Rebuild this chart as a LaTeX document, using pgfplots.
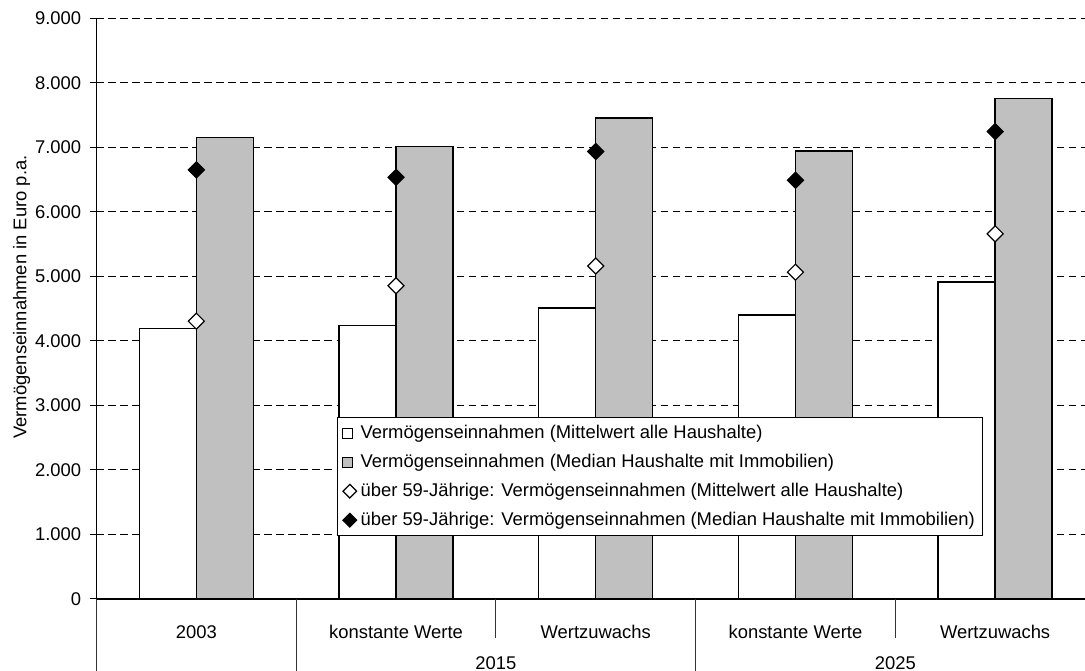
\documentclass[border=0pt]{standalone}
\usepackage{pgfplots}
\pgfplotsset{compat=1.18}
\usetikzlibrary{calc}
\usepackage{fontspec}
\setmainfont{Liberation Sans}
\newcommand\cf{\fontsize{9.2bp}{11bp}\selectfont}
\definecolor{bargray}{HTML}{C0C0C0}

\begin{document}
\begin{tikzpicture}[font=\cf]
\begin{axis}[
    scale only axis,
    width=494.25bp, height=290.35bp,
    xmin=-0.5, xmax=4.45,
    ymin=0, ymax=9000,
    axis lines*=left,
    axis line style={line width=0.6bp},
    clip=false,
    ytick distance=1000,
    scaled y ticks=false,
    /pgf/number format/1000 sep={.},
    /pgf/number format/assume math mode=true,
    yticklabel style={inner sep=0pt, xshift=-4.5bp},
    major tick length=3bp,
    tick align=outside,
    ytick style={black, line width=0.5bp},
    xtick={0,1,2,3,4},
    xticklabels={2003,konstante Werte,Wertzuwachs,konstante Werte,Wertzuwachs},
    xtick style={draw=none},
    xticklabel style={anchor=base, inner sep=0pt, yshift=-16.85bp},
    ymajorgrids,
    grid style={black, line width=0.5bp, dash pattern=on 3.7bp off 2.3bp},
    ylabel={Vermögenseinnahmen in Euro p.a.},
    ylabel style={at={(axis description cs:0,0.52)}, anchor=center, yshift=37.5bp},
    legend style={at={(axis description cs:0.2433,0.3134)}, anchor=north west,
        draw=black, line width=0.5bp, fill=white, font=\cf,
        inner xsep=2bp, inner ysep=0.6bp, row sep=0pt,
        nodes={inner xsep=1.7bp, inner ysep=2.8bp, text height=6.9bp, text depth=2bp}},
    legend cell align=left,
]
\addplot[ybar, bar width=28.5bp, bar shift=-14.25bp, draw=black, fill=white, line width=0.75bp,
    legend image code/.code={\draw[draw=black, fill=white, line width=0.5bp] (0bp,-2.5bp) rectangle (5bp,2.5bp);}]
    coordinates {(0,4190) (1,4240) (2,4510) (3,4400) (4,4910)};
\addlegendentry{Vermögenseinnahmen (Mittelwert alle Haushalte)}
\addplot[ybar, bar width=28.5bp, bar shift=14.25bp, draw=black, fill=bargray, line width=0.75bp,
    legend image code/.code={\draw[draw=black, fill=bargray, line width=0.5bp] (0bp,-2.5bp) rectangle (5bp,2.5bp);}]
    coordinates {(0,7150) (1,7010) (2,7455) (3,6945) (4,7755)};
\addlegendentry{Vermögenseinnahmen (Median Haushalte mit Immobilien)}
\addplot[only marks, mark=square*, mark size=2.83bp,
    mark options={rotate=45, fill=white, draw=black, line width=0.6bp},
    legend image code/.code={\draw[draw=black, fill=white, line width=0.6bp] (3.9bp,3.4bp) -- (7.3bp,0bp) -- (3.9bp,-3.4bp) -- (0.5bp,0bp) -- cycle;}]
    coordinates {(0,4305) (1,4855) (2,5160) (3,5065) (4,5660)};
\addlegendentry{über 59-Jährige: Vermögenseinnahmen (Mittelwert alle Haushalte)}
\addplot[only marks, mark=square*, mark size=2.83bp,
    mark options={rotate=45, fill=black, draw=black, line width=0.6bp},
    legend image code/.code={\draw[draw=black, fill=black, line width=0.6bp] (3.9bp,3.4bp) -- (7.3bp,0bp) -- (3.9bp,-3.4bp) -- (0.5bp,0bp) -- cycle;}]
    coordinates {(0,6650) (1,6535) (2,6935) (3,6490) (4,7245)};
\addlegendentry{über 59-Jährige: Vermögenseinnahmen (Median Haushalte mit Immobilien)}

% category separators below the x axis
\draw[black!80, line width=0.5bp] (axis cs:-0.5,0) -- ([yshift=-36bp]axis cs:-0.5,0);
\draw[black!80, line width=0.5bp] (axis cs:0.5,0) -- ([yshift=-36bp]axis cs:0.5,0);
\draw[black!80, line width=0.5bp] (axis cs:1.5,0) -- ([yshift=-19.35bp]axis cs:1.5,0);
\draw[black!80, line width=0.5bp] (axis cs:2.5,0) -- ([yshift=-36bp]axis cs:2.5,0);
\draw[black!80, line width=0.5bp] (axis cs:3.5,0) -- ([yshift=-19.35bp]axis cs:3.5,0);
\node[anchor=base, inner sep=0pt, yshift=-35.35bp] at (axis cs:1.5,0) {2015};
\node[anchor=base, inner sep=0pt, yshift=-35.35bp] at (axis cs:3.5,0) {2025};
\end{axis}
\pgfresetboundingbox
\path[use as bounding box] ($(current axis.south west)+(-48.25bp,-36bp)$) rectangle ($(current axis.north east)+(0bp,9.15bp)$);
\end{tikzpicture}
\end{document}
